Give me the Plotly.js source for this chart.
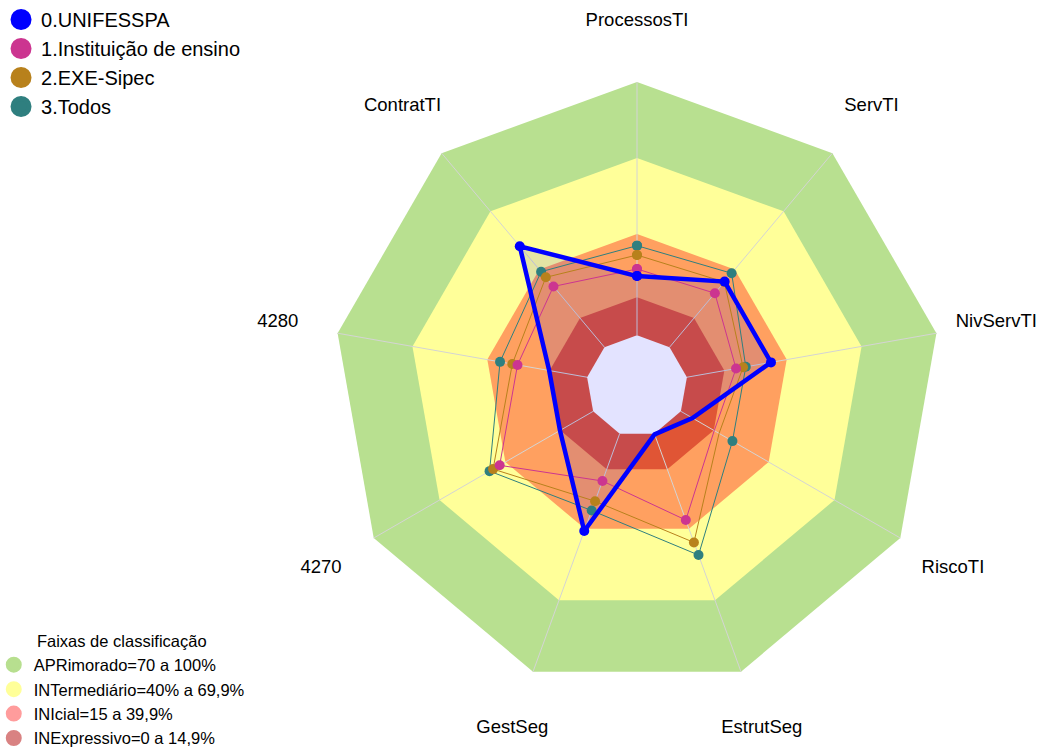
<!DOCTYPE html>
<html>
<head>
<meta charset="utf-8">
<script src="https://cdn.plot.ly/plotly-3.0.1.min.js"></script>
<style>html,body{margin:0;padding:0;background:#fff;}#chart{width:1039px;height:756px;}</style>
</head>
<body>
<div id="chart"></div>
<script>
// ---- data ----
const categories = ["ProcessosTI", "ServTI", "NivServTI", "RiscoTI", "EstrutSeg", "GestSeg", "4270", "4280", "ContratTI"];
const seriesNames = ["0.UNIFESSPA", "1.Instituição de ensino", "2.EXE-Sipec", "3.Todos"];
const unifesspa   = [23.4, 33.8, 33.7, 5.3, 0.3, 40.9, 15.1, 15.2, 52.0];
const instituicao = [26.2, 27.8, 19.7, 15.2, 36.3, 19.9, 42.6, 27.9, 31.3];
const exeSipec    = [31.7, 33.6, 22.5, 17.4, 45.7, 28.4, 45.6, 30.0, 36.0];
const todos       = [35.4, 38.1, 23.6, 23.5, 51.0, 32.3, 47.2, 34.9, 38.9];
const seriesColors = ["#0000FF", "#CC3590", "#B8811C", "#2F7F7F"];

const bandNames = ["APRimorado=70 a 100%", "INTermediário=40% a 69,9%", "INIcial=15 a 39,9%", "INExpressivo=0 a 14,9%"];
const bandUpper = [100, 70, 40, 15];
const bandFill = ["#B8E090", "#FFFF99", "#FFA060", "#E05535"];
const bandLegendColors = ["#B7DF8F", "#FFFF99", "#FF9C9C", "#D98282"];
const radialMin = -20, scaleMax = 100, radialMax = 126, labelR = 124;

const font = "Liberation Sans, Arial, sans-serif";
const closeLoop = a => a.concat([a[0]]);
const thetaClosed = closeLoop(categories);

const traces = [];

// legend-only entries for the classification bands
bandNames.forEach((n, i) => {
  traces.push({type: "scatterpolar", r: [null], theta: [null], mode: "markers", name: n,
    legend: "legend2", hoverinfo: "skip",
    marker: {size: 13, color: bandLegendColors[i], line: {color: bandLegendColors[i], width: 3}}});
});

// band polygons
bandUpper.forEach((u, i) => {
  traces.push({type: "scatterpolar", r: categories.map(() => u), theta: categories,
    mode: "lines", fill: "toself", fillcolor: bandFill[i], line: {width: 0, color: bandFill[i]},
    showlegend: false, hoverinfo: "skip"});
});
// inner hole (value 0)
traces.push({type: "scatterpolar", r: categories.map(() => 0), theta: categories,
  mode: "lines", fill: "toself", fillcolor: "#FFFFFF", line: {width: 0, color: "#FFFFFF"},
  showlegend: false, hoverinfo: "skip"});

// spokes
const spokeTheta = [], spokeR = [];
categories.forEach(c => { spokeTheta.push(c, c, null); spokeR.push(0, scaleMax, null); });
traces.push({type: "scatterpolar", r: spokeR, theta: spokeTheta, mode: "lines",
  line: {color: "#D4D4D4", width: 1}, connectgaps: false, showlegend: false, hoverinfo: "skip"});

// series
const seriesData = [unifesspa, instituicao, exeSipec, todos];
traces.push({type: "scatterpolar", r: closeLoop(unifesspa), theta: thetaClosed, mode: "none",
  fill: "toself", fillcolor: "rgba(0,0,255,0.11)", showlegend: false, hoverinfo: "skip"});
[3, 2, 1, 0].forEach(i => {
  traces.push({type: "scatterpolar", r: closeLoop(seriesData[i]), theta: thetaClosed,
    mode: "lines+markers", showlegend: false, hoverinfo: "skip",
    line: {color: seriesColors[i], width: i === 0 ? 4.5 : 1},
    marker: {color: seriesColors[i], size: 10}});
});
// legend-only entries for series
seriesNames.forEach((n, i) => {
  traces.push({type: "scatterpolar", r: [null], theta: [null], mode: "markers", name: n,
    legend: "legend", hoverinfo: "skip",
    marker: {size: 16, color: seriesColors[i], line: {color: seriesColors[i], width: 5}}});
});

// axis labels
traces.push({type: "scatterpolar", r: categories.map(() => labelR), theta: categories,
  mode: "text", text: categories, textposition: "middle center", cliponaxis: false,
  textfont: {family: font, size: 18.5, color: "#000"}, showlegend: false, hoverinfo: "skip"});

const layout = {
  width: 1039, height: 756,
  margin: {l: 0, r: 0, t: 0, b: 0, autoexpand: false},
  paper_bgcolor: "#fff",
  hovermode: false,
  font: {family: font, color: "#000"},
  polar: {
    domain: {x: [0.2571, 0.9691], y: [0.0001, 0.9787]},
    gridshape: "linear",
    bgcolor: "rgba(0,0,0,0)",
    radialaxis: {range: [radialMin, radialMax], visible: false, showgrid: false},
    angularaxis: {type: "category", categoryarray: categories, direction: "clockwise", rotation: 90,
      showgrid: false, showticklabels: false, showline: false, ticks: ""}
  },
  legend: {x: 0.001, y: 1, xanchor: "left", yanchor: "top", font: {size: 20, family: font},
    bgcolor: "rgba(0,0,0,0)", tracegroupgap: 0},
  legend2: {x: -0.006, y: 0, xanchor: "left", yanchor: "bottom", font: {size: 16.5, family: font},
    bgcolor: "rgba(0,0,0,0)", tracegroupgap: 0,
    title: {text: "Faixas de classificação", side: "top center", font: {size: 16.5, family: font}}}
};

Plotly.newPlot("chart", traces, layout, {displayModeBar: false, staticPlot: true});
</script>
</body>
</html>
